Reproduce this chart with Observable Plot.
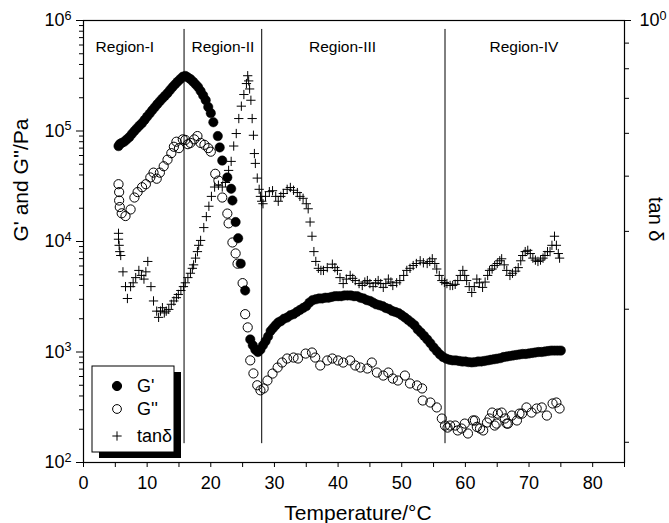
<!DOCTYPE html>
<html><head><meta charset="utf-8">
<script src="https://cdn.jsdelivr.net/npm/d3@7"></script>
<script src="https://cdn.jsdelivr.net/npm/@observablehq/plot@0.6"></script>
<style>body{margin:0;background:#fff;font-family:"Liberation Sans",Arial,sans-serif}</style>
</head><body><div id="chart"></div>
<script>
// ---- data ----
const gPrimeT = [5.5,5.7,6.0,6.4,6.8,7.2,7.6,8.0,8.4,8.8,9.2,9.6,10.0,10.4,10.8,11.2,11.6,12.0,12.4,12.8,13.2,13.6,14.0,14.4,14.8,15.2,15.6,16.0,16.4,16.8,17.2,17.6,18.0,18.4,18.8,19.2,19.6,20.0,20.4,21.1,21.4,21.8,22.6,23.2,23.4,23.9,24.3,24.7,25.4,26.2,26.6,27.0,27.4,27.8,28.2,28.6,29.0,29.4,29.8,30.2,30.6,31.0,31.5,32.0,32.5,33.0,33.5,34.0,34.5,35.0,35.5,36.0,36.5,37.0,37.5,38.0,38.5,39.0,39.5,40.0,40.5,41.0,41.5,42.0,42.5,43.0,43.5,44.0,44.5,45.0,45.5,46.0,46.5,47.0,47.5,48.0,48.5,49.0,49.5,50.0,50.5,51.0,51.5,52.0,52.5,53.0,53.5,54.0,54.5,55.0,55.5,56.0,56.5,57.0,57.5,58.0,58.5,59.0,59.5,60.0,60.5,61.0,61.5,62.0,62.5,63.0,63.5,64.0,64.5,65.0,65.5,66.0,66.5,67.0,67.5,68.0,68.5,69.0,69.5,70.0,70.5,71.0,71.5,72.0,72.5,73.0,73.5,74.0,74.5,75.0];
const gPrimeVals = [73000,76000,78000,80000,84000,88000,94000,100000,106000,112000,118000,126000,135000,144000,154000,164000,175000,186000,197000,208000,220000,235000,250000,265000,280000,295000,310000,315000,305000,295000,280000,265000,250000,230000,210000,190000,165000,145000,120000,90000,71000,54000,38000,30000,23500,15000,10700,6300,3600,1300,1150,1050,1000,1050,1150,1250,1380,1550,1650,1750,1850,1900,2000,2050,2150,2200,2300,2400,2500,2600,2800,2950,3000,3050,3050,3100,3100,3150,3200,3200,3200,3250,3250,3250,3200,3200,3100,3050,2950,2900,2800,2700,2650,2600,2500,2450,2350,2300,2250,2150,2050,1950,1850,1750,1600,1500,1400,1300,1200,1100,1020,950,900,870,850,840,840,830,820,820,810,805,810,820,820,830,840,850,860,870,880,900,910,920,930,940,950,960,960,970,980,990,1000,1000,1010,1020,1030,1030,1030,1030];

const gDoublePrimeT = [5.5,5.6,5.6,5.7,6.0,6.6,7.4,8.0,8.5,9.2,9.8,10.5,11.0,11.5,12.0,12.6,13.2,13.8,14.2,14.6,15.0,15.6,16.0,16.4,16.8,17.4,17.9,18.4,19.0,19.6,20.0,20.7,21.2,21.8,22.6,22.8,23.4,23.9,24.2,25.0,25.4,25.8,26.2,26.7,27.3,27.8,28.3,28.9,29.7,30.5,31.2,32.0,33.0,33.7,34.9,35.9,36.4,37.2,38.3,39.1,40.0,40.8,41.9,42.7,43.5,44.6,45.3,46.1,47.1,47.9,48.6,49.4,50.5,51.3,52.4,53.2,53.3,54.5,55.5,56.3,56.8,57.2,57.6,58.4,58.8,59.4,59.9,60.4,61.2,61.5,61.8,62.3,62.8,63.4,63.8,64.2,64.6,64.9,65.1,65.7,66.2,66.5,66.7,67.3,68.1,68.5,68.9,69.6,70.4,71.2,72.0,72.8,73.7,74.3,74.8];
const gDoublePrimeVals = [33000,28000,23500,20500,18000,17000,19500,25000,28000,31000,33000,38000,42000,37000,42000,48000,55000,63000,72000,80000,70000,84000,83000,76000,78000,84000,90000,78000,75000,70000,65000,41000,35600,25000,17900,14600,9800,7800,6300,4200,2200,1670,840,640,500,450,468,552,638,724,803,873,891,873,968,989,891,755,838,873,838,803,838,755,724,709,803,652,612,652,575,552,612,519,498,468,364,349,315,250,216,207,216,216,195,203,225,183,240,240,210,203,195,230,250,283,216,225,277,283,250,225,225,266,240,277,277,315,283,308,315,266,342,349,308];

const tanDeltaT = [5.5,5.5,5.6,5.7,5.85,6.2,6.6,6.9,7.4,7.8,8.2,8.7,9.1,9.5,9.8,10.1,10.6,11.0,11.5,11.8,12.1,12.4,12.7,13.0,13.4,13.8,14.2,14.6,14.9,15.3,15.7,16.0,16.4,16.8,17.1,17.3,17.6,17.9,18.1,18.4,18.9,19.3,19.7,20.1,20.6,21.2,21.8,22.3,22.8,23.2,23.6,24.0,24.4,24.8,25.2,25.6,25.8,25.95,26.1,26.3,26.5,26.7,26.85,27.0,27.3,27.6,27.8,28.0,28.2,28.6,29.2,29.7,30.2,30.6,31.0,31.4,32.0,32.5,33.0,33.6,34.0,34.5,35.0,35.3,35.6,35.9,36.2,36.5,36.9,37.3,37.7,38.3,39.1,39.5,39.9,40.3,40.8,41.3,41.9,42.3,42.7,43.3,43.8,44.2,44.6,45.0,45.5,45.9,46.3,46.7,47.1,47.5,47.9,48.3,48.6,49.2,49.7,50.3,50.8,51.3,51.8,52.3,52.9,53.4,54.0,54.4,54.8,55.2,55.5,55.9,56.3,56.7,57.1,57.6,58.0,58.4,58.8,59.2,59.6,59.9,60.2,60.6,61.0,61.4,61.8,62.2,62.7,63.1,63.5,63.8,64.2,64.6,65.0,65.4,65.7,66.1,66.5,67.0,67.4,67.9,68.3,68.7,69.0,69.4,69.8,70.2,70.6,71.0,71.4,71.8,72.2,72.5,72.9,73.3,73.6,74.0,74.3,74.6,74.8];
const tanDeltaVals = [0.33,0.32,0.31,0.30,0.294,0.27,0.25,0.235,0.25,0.255,0.262,0.272,0.265,0.26,0.27,0.285,0.25,0.232,0.22,0.213,0.22,0.224,0.218,0.22,0.222,0.228,0.232,0.236,0.24,0.245,0.25,0.255,0.262,0.268,0.275,0.28,0.29,0.30,0.31,0.318,0.34,0.36,0.38,0.40,0.42,0.424,0.42,0.43,0.458,0.48,0.52,0.555,0.60,0.64,0.68,0.72,0.75,0.73,0.70,0.66,0.60,0.55,0.50,0.475,0.44,0.415,0.40,0.39,0.385,0.40,0.41,0.412,0.40,0.39,0.40,0.406,0.415,0.419,0.413,0.408,0.40,0.396,0.385,0.375,0.35,0.325,0.30,0.285,0.275,0.272,0.272,0.276,0.281,0.276,0.272,0.262,0.254,0.26,0.265,0.261,0.258,0.254,0.2515,0.256,0.258,0.254,0.25,0.255,0.258,0.254,0.249,0.254,0.26,0.256,0.2515,0.255,0.258,0.265,0.272,0.275,0.279,0.282,0.286,0.283,0.282,0.285,0.289,0.282,0.274,0.265,0.258,0.2555,0.254,0.2515,0.2515,0.253,0.258,0.265,0.272,0.265,0.258,0.25,0.2425,0.25,0.26,0.255,0.249,0.256,0.265,0.272,0.274,0.279,0.282,0.286,0.289,0.28,0.272,0.265,0.268,0.271,0.276,0.286,0.294,0.30,0.302,0.297,0.29,0.287,0.285,0.287,0.29,0.294,0.30,0.30,0.31,0.325,0.31,0.297,0.29];

const regionBounds = [15.8, 28.0, 56.8];
const regionNames = ["Region-I", "Region-II", "Region-III", "Region-IV"];
const regionLabelT = [6.5, 21.9, 40.7, 69.2];
const xTicks = [0,5,10,15,20,25,30,35,40,45,50,55,60,65,70,75,80,85];
const leftMajor = [1e2,1e3,1e4,1e5,1e6];
const leftMinor = [2,3,4,5,6,7,8,9].flatMap(m => [1e2,1e3,1e4,1e5].map(d => m * d));
const rightMinor = [1/9,2/9,3/9,4/9,5/9,6/9,7/9,8/9];
const legendLabels = ["G'", "G''", "tan\u03b4"];

// tan δ axis: one decade (0.1 – 1) spans the same height as the four G decades
const toLeft = t => 1e6 * Math.pow(t, 4);
const font = "Liberation Sans, Arial, Helvetica, sans-serif";

const plot = Plot.plot({
  width: 669, height: 523,
  marginLeft: 83, marginRight: 45, marginTop: 20, marginBottom: 61,
  style: {fontFamily: font, fontSize: "18px", color: "black", background: "white", overflow: "visible"},
  x: {domain: [0, 85]},
  y: {type: "log", domain: [100, 1e6]},
  marks: [
    Plot.axisX({ticks: xTicks, tickSize: 5, tickPadding: 9, fontSize: 18, tickFormat: d => d % 10 === 0 && d <= 80 ? String(d) : "", label: null}),
    Plot.axisY({ticks: leftMajor, tickSize: 7, tickPadding: 5, fontSize: 18, tickFormat: d => "10^" + Math.round(Math.log10(d)), label: null}),
    Plot.axisY({ticks: leftMinor, tickSize: 4, tickFormat: () => "", label: null}),
    Plot.axisY({anchor: "right", ticks: rightMinor.map(toLeft), tickSize: 4, tickFormat: () => "", label: null}),
    Plot.axisY({anchor: "right", ticks: [toLeft(1)], tickSize: 6, tickPadding: 9, fontSize: 18, tickFormat: () => "10^0", label: null}),
    Plot.frame({stroke: "black", strokeWidth: 1.2}),
    Plot.ruleX(regionBounds, {y1: 830000, y2: 148, stroke: "black", strokeWidth: 1}),
    Plot.text(regionNames, {x: (d, i) => regionLabelT[i], frameAnchor: "top", dy: 20, fontSize: 15.5, text: d => d}),
    Plot.dot(d3.range(tanDeltaT.length), {x: i => tanDeltaT[i], y: i => toLeft(tanDeltaVals[i]), symbol: "plus", r: 3.1, stroke: "black", strokeWidth: 1}),
    Plot.dot(d3.range(gDoublePrimeT.length), {x: i => gDoublePrimeT[i], y: i => gDoublePrimeVals[i], r: 4.6, stroke: "black", fill: "none", strokeWidth: 1}),
    Plot.dot(d3.range(gPrimeT.length), {x: i => gPrimeT[i], y: i => gPrimeVals[i], r: 4.7, fill: "black", stroke: "black", strokeWidth: 0.5}),
    Plot.text(["Temperature/\u00b0C"], {frameAnchor: "bottom", dx: 4, dy: 57, lineAnchor: "bottom", fontSize: 21, text: d => d}),
    Plot.text(["G' and G''/Pa"], {frameAnchor: "left", dx: -62, rotate: -90, fontSize: 21, text: d => d}),
    Plot.text(["tan \u03b4"], {frameAnchor: "right", dx: 31, rotate: 90, fontSize: 20, text: d => d})
  ]
});

// superscript exponents on tick labels
d3.select(plot).selectAll("text").each(function() {
  const m = /^10\^(\d)$/.exec(this.textContent);
  if (m) {
    this.textContent = "10";
    d3.select(this).append("tspan").attr("dy", "-0.5em").attr("font-size", "0.7em").text(m[1]);
  }
});

// legend with drop shadow
const svg = d3.select(plot);
const lg = svg.append("g").attr("font-family", font).attr("font-size", 18).attr("text-anchor", "start");
lg.append("rect").attr("x", 99).attr("y", 372).attr("width", 82).attr("height", 86).attr("fill", "black");
lg.append("rect").attr("x", 92).attr("y", 366).attr("width", 82).attr("height", 86).attr("fill", "white").attr("stroke", "black").attr("stroke-width", 1);
const rowsY = [386, 409, 436];
const syms = [
  {t: d3.symbolCircle, s: Math.PI * 4.6 * 4.6, fill: "black"},
  {t: d3.symbolCircle, s: Math.PI * 4.4 * 4.4, fill: "none"},
  {t: d3.symbolPlus, s: Math.PI * 3.1 * 3.1, fill: "none"}
];
legendLabels.forEach((lab, i) => {
  lg.append("path").attr("d", d3.symbol(syms[i].t, syms[i].s)()).attr("transform", `translate(117,${rowsY[i]})`)
    .attr("fill", syms[i].fill).attr("stroke", "black").attr("stroke-width", 1);
  lg.append("text").attr("x", 137).attr("y", rowsY[i] + 6).text(lab);
});

document.getElementById("chart").appendChild(plot);
</script>
</body></html>
